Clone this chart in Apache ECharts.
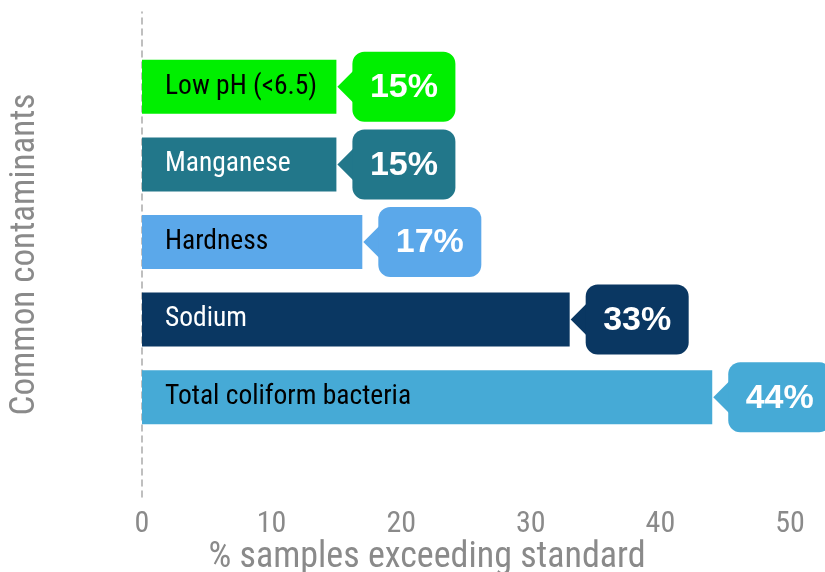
<!DOCTYPE html>
<html>
<head>
<meta charset="utf-8">
<script src="https://cdn.jsdelivr.net/npm/echarts@6/dist/echarts.min.js"></script>
<style>
  html, body { margin: 0; padding: 0; background: #ffffff; }
  #chart { width: 825px; height: 572px; }
</style>
</head>
<body>
<div id="chart"></div>
<script>
// Contaminants, top to bottom
const categories = ['Low pH (<6.5)', 'Manganese', 'Hardness', 'Sodium', 'Total coliform bacteria'];
// Percent of samples exceeding the standard
const values = [15, 15, 17, 33, 44];
const barColors = ['#00ef00', '#22778a', '#5ba8ea', '#0a3762', '#46aad6'];
const nameColors = ['#000000', '#ffffff', '#000000', '#ffffff', '#000000'];
const xTicks = [0, 10, 20, 30, 40, 50];

const NARROW = "'Liberation Sans Narrow', 'Roboto Condensed', 'Arial Narrow', 'DejaVu Sans Condensed', sans-serif";
const GREY = '#8a8a8a';

const chart = echarts.init(document.getElementById('chart'));

const barData = values.map((v, i) => ({
  value: v,
  itemStyle: { color: barColors[i] },
  label: { color: nameColors[i] }
}));

// Callout shape with a left-pointing tip, drawn next to each bar end
function renderCallout(params, api) {
  const idx = api.value(1);
  const val = api.value(0);
  const end = api.coord([val, idx]);
  const x = end[0], cy = end[1];
  const gap = 16, boxW = 103, boxH = 70, tipH = 17;
  const color = barColors[idx];
  return {
    type: 'group',
    children: [
      {
        type: 'polygon',
        shape: { points: [[x + 1, cy], [x + gap + 2, cy - tipH], [x + gap + 2, cy + tipH]] },
        style: { fill: color }
      },
      {
        type: 'rect',
        shape: { x: x + gap, y: cy - boxH / 2, width: boxW, height: boxH, r: 12 },
        style: { fill: color }
      },
      {
        type: 'text',
        style: {
          x: x + gap + boxW / 2,
          y: cy + 1,
          text: val + '%',
          fill: '#ffffff',
          font: "bold 34px 'Liberation Sans', Arial, sans-serif",
          align: 'center',
          verticalAlign: 'middle'
        }
      }
    ]
  };
}

const option = {
  animation: false,
  title: {
    text: '% samples exceeding standard',
    left: 422,
    top: 535,
    textAlign: 'center',
    textStyle: { fontFamily: NARROW, fontSize: 36, fontWeight: 'normal', color: GREY }
  },
  grid: [
    { left: 142, right: 35, top: 48, height: 388, containLabel: false, outerBoundsMode: 'none' },
    { left: 142, right: 35, top: 12, bottom: 75, containLabel: false, outerBoundsMode: 'none' }
  ],
  xAxis: [
    { gridIndex: 0, type: 'value', min: 0, max: 50, interval: 10, show: false },
    {
      gridIndex: 1, type: 'value', min: 0, max: 50, interval: 10,
      axisLine: { show: false }, axisTick: { show: false }, splitLine: { show: false },
      axisLabel: {
        margin: 12, color: GREY, fontFamily: NARROW, fontSize: 30,
        formatter: v => xTicks.indexOf(v) >= 0 ? String(v) : ''
      }
    }
  ],
  yAxis: [
    { gridIndex: 0, type: 'category', data: categories, inverse: true, show: false },
    {
      gridIndex: 1, type: 'value', min: 0, max: 1,
      axisLine: { show: true, lineStyle: { color: '#aaaaaa', type: [6, 5], width: 1.5 } },
      axisTick: { show: false }, axisLabel: { show: false }, splitLine: { show: false },
      name: 'Common contaminants',
      nameLocation: 'middle',
      nameRotate: 90,
      nameGap: 99,
      nameTextStyle: { fontFamily: NARROW, fontSize: 35, color: GREY }
    }
  ],
  series: [
    {
      type: 'bar',
      xAxisIndex: 0, yAxisIndex: 0,
      data: barData,
      barWidth: 54,
      label: {
        show: true,
        position: 'insideLeft',
        distance: 23,
        formatter: p => categories[p.dataIndex],
        fontFamily: NARROW,
        fontSize: 27.5
      }
    },
    {
      type: 'custom',
      xAxisIndex: 0, yAxisIndex: 0,
      renderItem: renderCallout,
      data: values.map((v, i) => [v, i]),
      encode: { x: 0, y: 1 },
      clip: false
    }
  ]
};

chart.setOption(option);
</script>
</body>
</html>
